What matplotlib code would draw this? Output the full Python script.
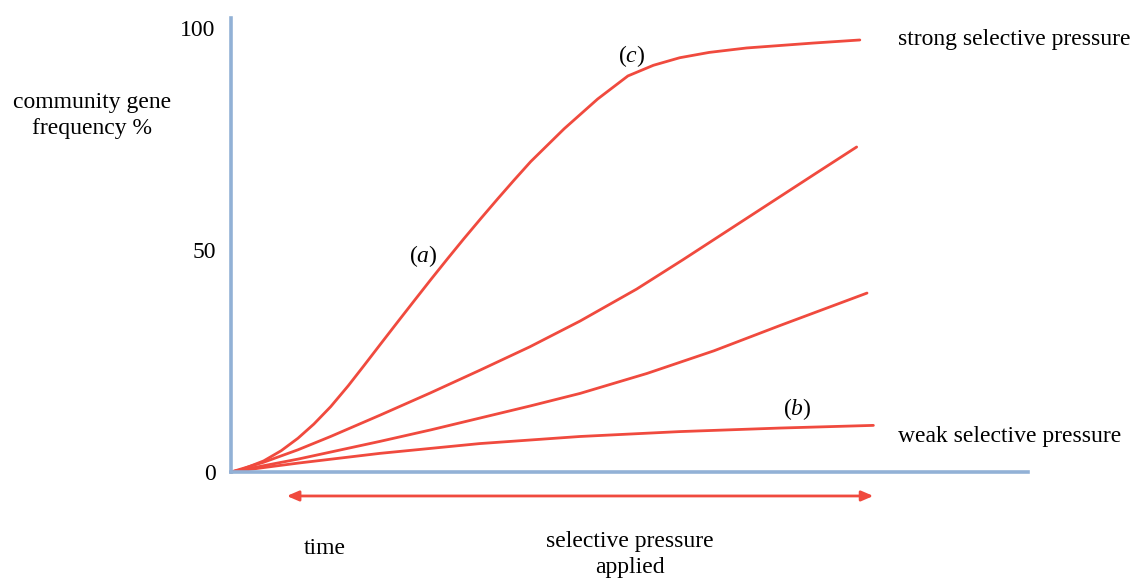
import matplotlib
matplotlib.use("Agg")
import matplotlib.pyplot as plt

plt.rcParams['font.family'] = ['Liberation Serif', 'DejaVu Serif']
plt.rcParams['mathtext.fontset'] = 'custom'
plt.rcParams['mathtext.rm'] = 'Liberation Serif'
plt.rcParams['mathtext.it'] = 'Liberation Serif:italic'

# ---- data (time in arbitrary units, frequency in %) ----
strong_x = [0, 1.25, 4.1, 6.3, 8.4, 10.4, 12.5, 14.7, 16.7, 18.8, 21.0, 23.0, 25.1, 27.2, 29.2,
            31.4, 33.5, 35.5, 37.6, 41.8, 46.0, 49.8, 53.0, 56.3, 60.0, 64.7, 73.0, 78.9]
strong_y = [0, 0.5, 2.5, 4.8, 7.6, 10.8, 14.7, 19.4, 24.0, 28.9, 34.0, 38.6, 43.4, 48.1, 52.5,
            57.2, 61.6, 65.7, 69.9, 77.3, 84.0, 89.2, 91.6, 93.3, 94.5, 95.5, 96.6, 97.3]

mid1_x = [0, 4.1, 8.4, 12.5, 18.7, 25.0, 31.2, 37.5, 43.8, 50.9, 56.7, 65.1, 73.5, 78.5]
mid1_y = [0, 2.2, 5.0, 8.0, 12.8, 17.8, 22.9, 28.2, 34.0, 41.2, 47.8, 57.6, 67.4, 73.2]

mid2_x = [0, 8.4, 18.7, 25.1, 37.6, 43.8, 52.2, 60.6, 68.9, 79.8]
mid2_y = [0, 2.9, 6.9, 9.5, 14.9, 17.7, 22.2, 27.3, 33.0, 40.3]

weak_x = [0, 4.1, 8.4, 18.7, 31.2, 43.8, 56.3, 68.9, 80.6]
weak_y = [0, 1.0, 2.0, 4.2, 6.4, 8.0, 9.1, 9.9, 10.5]

ytick_vals = [0, 50, 100]
ytick_labels = ['0', '50', '100']

arrow_start, arrow_end = 7.0, 80.6

RED = '#f04a3e'
BLUE = '#92b1d6'
FS = 17

fig = plt.figure(figsize=(11.34, 5.78), dpi=100)
ax = fig.add_axes([231/1134, (578-472)/578, (1028-231)/1134, (472-18)/578])
ax.set_xlim(0, 100)
ax.set_ylim(0, 102.25)

for xs, ys in [(strong_x, strong_y), (mid1_x, mid1_y), (mid2_x, mid2_y), (weak_x, weak_y)]:
    ax.plot(xs, ys, color=RED, lw=2.0, solid_capstyle='round', solid_joinstyle='round', clip_on=False)

for s in ['top', 'right']:
    ax.spines[s].set_visible(False)
for s in ['left', 'bottom']:
    ax.spines[s].set_color(BLUE)
    ax.spines[s].set_linewidth(2.6)

ax.set_xticks([])
ax.set_yticks(ytick_vals)
ax.set_yticklabels(ytick_labels, fontsize=FS)
ax.tick_params(axis='y', length=0, pad=11)

# arrow
ax.annotate('', xy=(arrow_end, -5.4), xytext=(arrow_start, -5.4),
            xycoords='data', textcoords='data', annotation_clip=False,
            arrowprops=dict(arrowstyle='<|-|>,head_length=0.7,head_width=0.3',
                            color=RED, lw=2.0, shrinkA=0, shrinkB=0))

# labels
kw = dict(fontsize=FS, clip_on=False)
ax.text(50.3, 93.6, '($c$)', ha='center', va='center', **kw)
ax.text(24.1, 48.7, '($a$)', ha='center', va='center', **kw)
ax.text(71.0, 14.2, '($b$)', ha='center', va='center', **kw)
ax.text(83.7, 97.5, 'strong selective pressure', ha='left', va='center', **kw)
ax.text(83.7, 8.1, 'weak selective pressure', ha='left', va='center', **kw)
ax.text(11.8, -17.3, 'time', ha='center', va='center', **kw)
ax.text(50.1, -18.6, 'selective pressure\napplied', ha='center', va='center', linespacing=1.32, **kw)
ax.text(-17.4, 80.3, 'community gene\nfrequency %', ha='center', va='center', linespacing=1.32, **kw)

fig.savefig('out.png', dpi=100)
